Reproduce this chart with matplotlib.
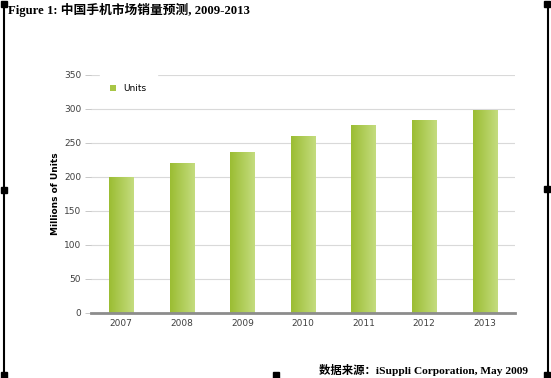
import numpy as np
import matplotlib.pyplot as plt
from matplotlib.colors import LinearSegmentedColormap

# Daten
years = ['2007', '2008', '2009', '2010', '2011', '2012', '2013']
units = [200, 221, 237, 260, 276, 284, 298]
yticks = [0, 50, 100, 150, 200, 250, 300, 350]

title_txt = 'Figure 1: 中国手机市场销量预测, 2009-2013'
source_txt = '数据来源：iSuppli Corporation, May 2009'

fig = plt.figure(figsize=(5.51, 3.78), dpi=100)
fig.patch.set_facecolor('white')

ax = fig.add_axes([91 / 551, 1 - 313 / 378, 424 / 551, 238 / 378])
x = np.arange(len(years))
bars = ax.bar(x, units, width=0.4, color='#a8c646', label='Units', zorder=2)

# Farbverlauf in den Balken
cmap = LinearSegmentedColormap.from_list('gr', ['#9bbd33', '#c4dc7e'])
grad = np.linspace(0, 1, 64).reshape(1, -1)
for b in bars:
    x0, y0 = b.get_x(), b.get_y()
    im = ax.imshow(grad, cmap=cmap, aspect='auto', zorder=2.1,
                   extent=[x0, x0 + b.get_width(), y0, y0 + b.get_height()])
    im.set_clip_path(b)

ax.set_xlim(-0.5, len(years) - 0.5)
ax.set_ylim(0, 350)
ax.set_xticks(x)
ax.set_xticklabels(years)
ax.set_yticks(yticks)
ax.grid(axis='y', color='#d9d9d9', linewidth=0.8, zorder=0)
for s in ['top', 'right', 'left']:
    ax.spines[s].set_visible(False)
ax.spines['bottom'].set_color('#8c8c8c')
ax.spines['bottom'].set_linewidth(2)
ax.spines['bottom'].set_zorder(3)
ax.tick_params(axis='x', length=0, labelsize=6.5, colors='#404040', pad=4)
ax.tick_params(axis='y', length=4, width=0.6, color='#bfbfbf', labelsize=6.5,
               labelcolor='#404040', pad=3)
ax.set_ylabel('Millions of Units', fontsize=6.5, fontweight='bold', labelpad=3)

leg = ax.legend(loc='upper left', bbox_to_anchor=(0.016, 1.015), fontsize=6.5,
                frameon=True, handlelength=0.6, handleheight=0.6,
                borderpad=1.2, borderaxespad=0.2)
leg.get_frame().set_edgecolor('white')
leg.get_frame().set_facecolor('white')
leg.get_frame().set_alpha(1)
leg.set_zorder(4)

# Titel und Quelle
fonts = ['Liberation Serif', 'Noto Sans CJK SC']
fig.text(8 / 551, 1 - 10 / 378, title_txt, fontsize=9.2, fontweight='bold',
         family=fonts, va='center', ha='left')
fig.text(528 / 551, 1 - 370 / 378, source_txt, fontsize=8.2, fontweight='bold',
         family=fonts, va='center', ha='right')

# Rahmen mit Griffpunkten
frame = fig.add_axes([0, 0, 1, 1], zorder=-1)
frame.set_xlim(0, 551)
frame.set_ylim(378, 0)
frame.axis('off')
frame.plot([3.5, 3.5], [3, 375], color='black', lw=1.5)
frame.plot([548, 548], [3, 375], color='black', lw=1.5)
for hx, hy in [(4, 4), (547, 4), (4, 375), (547, 375), (276, 375), (4, 190), (547, 189)]:
    frame.add_patch(plt.Rectangle((hx - 3, hy - 3), 6, 6, color='black'))

fig.savefig('out.png', dpi=100)
